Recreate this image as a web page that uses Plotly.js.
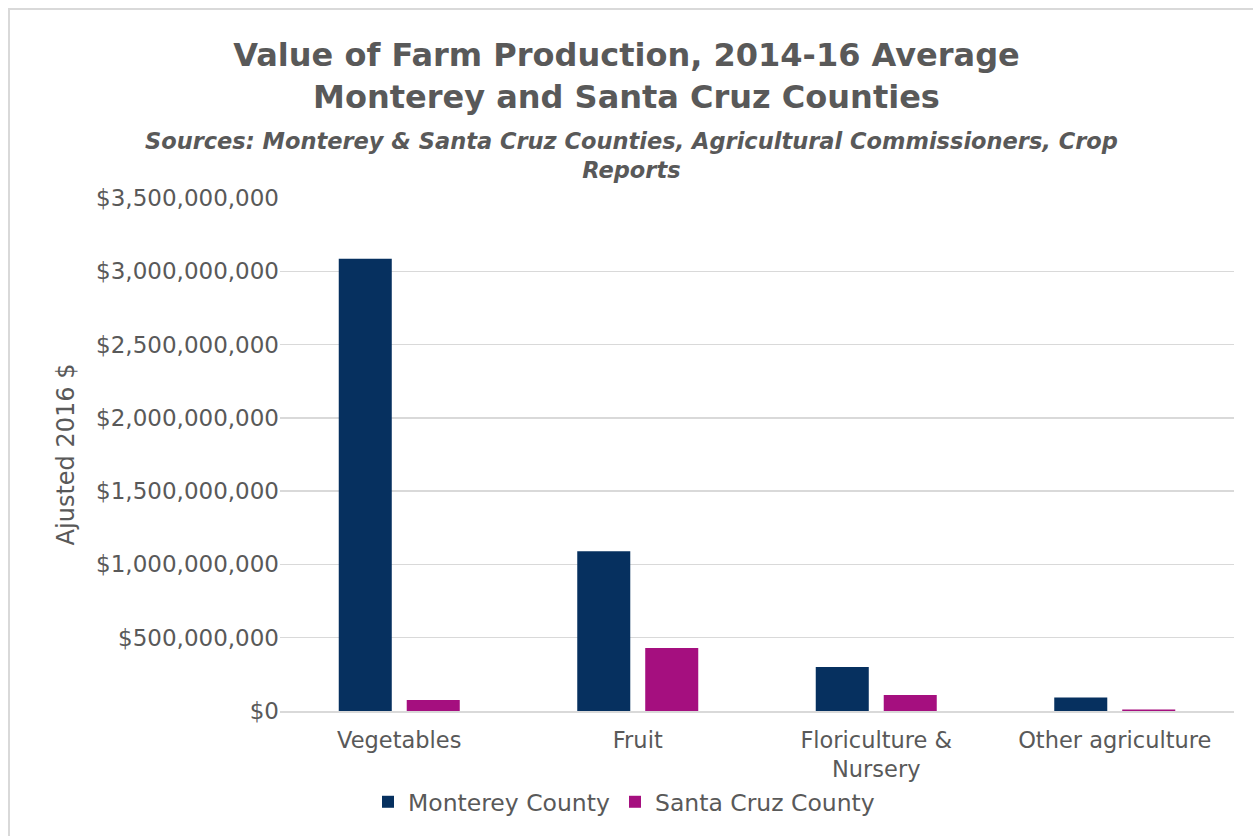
<!DOCTYPE html>
<html>
<head>
<meta charset="utf-8">
<script src="https://cdn.plot.ly/plotly-3.0.1.min.js"></script>
<style>
  html, body { margin: 0; padding: 0; background: #fff; overflow: hidden; }
  #chart { width: 1253px; height: 836px; position: absolute; left: 0; top: 0; }
  #frame { position: absolute; left: 8px; top: 8px; width: 1300px; height: 900px;
           border: 2px solid #d9d9d9; pointer-events: none; }
</style>
</head>
<body>
<div id="chart"></div>
<div id="frame"></div>
<script>
const categories = ["Vegetables", "Fruit", "Floriculture &<br>Nursery", "Other agriculture"];
const montereyValues = [3085000000, 1090000000, 300000000, 92000000];
const santaCruzValues = [75000000, 430000000, 110000000, 10000000];
const seriesNames = ["Monterey County", "Santa Cruz County"];
const yTickValues = [0, 500000000, 1000000000, 1500000000, 2000000000, 2500000000, 3000000000, 3500000000];

const FONT = "DejaVu Sans, sans-serif";
const GREY = "#595959";

const traces = [
  { type: "bar", name: seriesNames[0], x: categories, y: montereyValues,
    marker: { color: "#06305f" } },
  { type: "bar", name: seriesNames[1], x: categories, y: santaCruzValues,
    marker: { color: "#a50f7f" } }
];

const layout = {
  width: 1253, height: 836,
  paper_bgcolor: "#ffffff", plot_bgcolor: "#ffffff",
  margin: { l: 280, r: 19, t: 198, b: 125 },
  font: { family: FONT, color: GREY },
  barmode: "group", bargap: 0.43, bargroupgap: 0.22,
  title: {
    text: "<b>Value of Farm Production, 2014-16 Average<br>Monterey and Santa Cruz Counties</b>",
    font: { family: FONT, size: 32, color: GREY },
    xref: "container", x: 0.5, xanchor: "center",
    yref: "container", y: 1 - 66 / 836, yanchor: "top"
  },
  annotations: [{
    text: "<b><i>Sources: Monterey &amp; Santa Cruz Counties, Agricultural Commissioners, Crop<br>Reports</i></b>",
    xref: "paper", yref: "paper",
    x: (631 - 280) / 954, y: 1 + (198 - 156) / 513,
    xanchor: "center", yanchor: "middle", showarrow: false,
    font: { family: FONT, size: 22.5, color: GREY }
  }],
  xaxis: {
    showline: true, linecolor: "#d9d9d9", linewidth: 2,
    ticks: "", tickfont: { family: FONT, size: 22.5, color: GREY },
    ticklabelstandoff: 8,
    showgrid: false, automargin: false
  },
  yaxis: {
    range: [0, 3500000000], tickvals: yTickValues, tickformat: "$,.0f",
    showgrid: true, gridcolor: "#d9d9d9", gridwidth: 1.5,
    zeroline: false, showline: false, ticks: "",
    tickfont: { family: FONT, size: 23, color: GREY },
    title: { text: "Ajusted 2016 $", font: { family: FONT, size: 24, color: GREY }, standoff: 14 },
    automargin: false
  },
  legend: {
    orientation: "h", x: 0.498, xref: "container", xanchor: "center",
    y: 1 - 802 / 836, yref: "container", yanchor: "middle",
    font: { family: FONT, size: 23.5, color: GREY },
    itemwidth: 30, tracegroupgap: 0
  },
  showlegend: true
};

Plotly.newPlot("chart", traces, layout, { displayModeBar: false, staticPlot: true });
</script>
</body>
</html>
